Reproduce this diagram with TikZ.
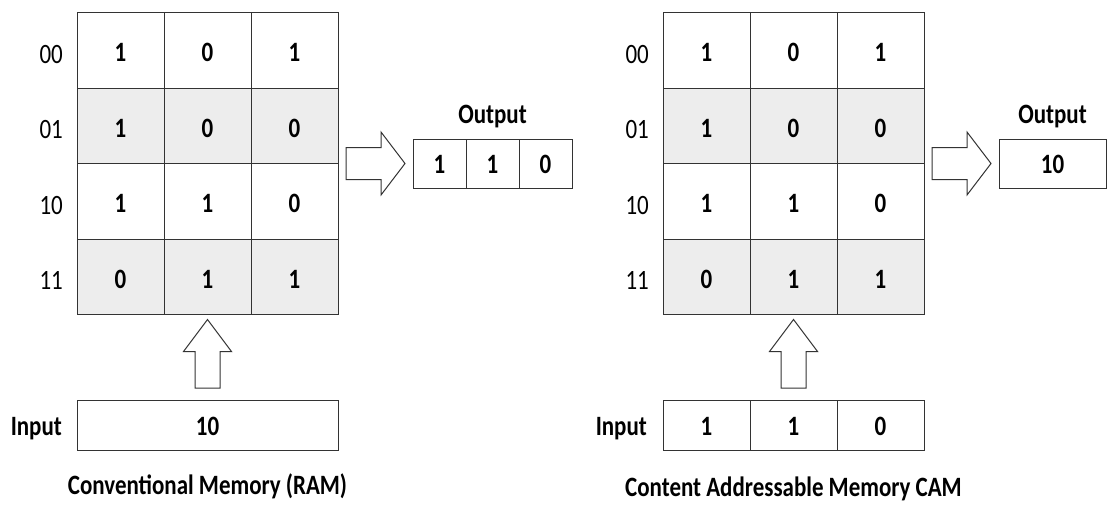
\documentclass[tikz,border=0pt]{standalone}
\usepackage{fontspec}
\setmainfont{Carlito}[FakeStretch=0.82]
\usepackage{xcolor}
\usetikzlibrary{positioning,calc}

\definecolor{rowgray}{HTML}{EDEDED}
\definecolor{edge}{HTML}{333333}
\newcommand{\bigbf}{\fontsize{28}{32}\selectfont\bfseries}
\newcommand{\bigrm}{\fontsize{28}{32}\selectfont}

% block arrows between two points
\newcommand{\hblock}[2]{%
  \draw[blockarrow] let \p1=#1, \p2=#2 in
    (\x1,\y1+16pt) -- (\x2-24pt,\y1+16pt) -- (\x2-24pt,\y1+31.5pt) -- (\x2,\y1)
    -- (\x2-24pt,\y1-31.5pt) -- (\x2-24pt,\y1-16pt) -- (\x1,\y1-16pt) -- cycle;}
\newcommand{\vblock}[2]{%
  \draw[blockarrow] let \p1=#1, \p2=#2 in
    (\x1-12.5pt,\y1) -- (\x1-12.5pt,\y2-32pt) -- (\x1-24pt,\y2-32pt) -- (\x1,\y2)
    -- (\x1+24pt,\y2-32pt) -- (\x1+12.5pt,\y2-32pt) -- (\x1+12.5pt,\y1) -- cycle;}

\tikzset{
  cell/.style={draw=edge, line width=1pt, fill=white, minimum width=87pt, minimum height=75.5pt,
    inner sep=0pt, outer sep=0pt, text height=23pt, text depth=0pt, font=\bigbf},
  smallcell/.style={cell, minimum height=49pt, text height=20pt},
  rowlab/.style={inner sep=0pt, text height=26pt, text depth=0pt, font=\bigrm},
  title/.style={inner sep=0pt, font=\bigbf},
  blockarrow/.style={draw=edge, line width=1pt, fill=white, line join=miter}
}

\begin{document}
\begin{tikzpicture}[x=1pt, y=-1pt]
    \useasboundingbox (0,0) rectangle (1108,504);

    % the two memory grids
    \foreach \g/\gx in {L/77, R/663} {
      \foreach \i/\lab/\f/\va/\vb/\vc in {0/00/white/1/0/1, 1/01/rowgray/1/0/0, 2/10/white/1/1/0, 3/11/rowgray/0/1/1} {
        \node (\g-\i-0) [cell, fill=\f] at ({\gx+43.5}, {50.25+75.5*\i}) {\va};
        \node (\g-\i-1) [cell, fill=\f, right=0pt of \g-\i-0] {\vb};
        \node (\g-\i-2) [cell, fill=\f, right=0pt of \g-\i-1] {\vc};
        \node (\g-lab-\i) [rowlab, left=14pt of \g-\i-0] {\lab};
      }
    }

    % RAM side
    \node (Lout-0) [smallcell, minimum width=53pt] at (439.5,163.5) {1};
    \node (Lout-1) [smallcell, minimum width=53pt, right=0pt of Lout-0] {1};
    \node (Lout-2) [smallcell, minimum width=53pt, right=0pt of Lout-1] {0};
    \node (Lout-t) [title, above=11pt of Lout-1] {Output};
    \node (Lin) [smallcell, minimum width=261pt, minimum height=50pt] at (207.5,425) {10};
    \node (Lin-t) [title, text height=20pt, text depth=0pt, left=15pt of Lin] {Input};
    \node (Lcap) [title, below=24pt of Lin] {Conventional Memory (RAM)};

    % CAM side
    \node (Rout) [smallcell, minimum width=107pt] at (1052.5,163.5) {10};
    \node (Rout-t) [title, above=11pt of Rout] {Output};
    \node (Rin-0) [smallcell, minimum height=50pt] at (706.5,425) {1};
    \node (Rin-1) [smallcell, minimum height=50pt, right=0pt of Rin-0] {1};
    \node (Rin-2) [smallcell, minimum height=50pt, right=0pt of Rin-1] {0};
    \node (Rin-t) [title, text height=20pt, text depth=0pt, left=16pt of Rin-0] {Input};
    \node (Rcap) [title, below=27pt of Rin-1] {Content Addressable Memory CAM};

    % arrows
    \hblock{($(L-1-2.south east)+(8,0)$)}{($(Lout-0.west)+(-8,0)$)}
    \hblock{($(R-1-2.south east)+(8,0)$)}{($(Rout.west)+(-8,0)$)}
    \vblock{($(Lin.north)+(0,-12)$)}{($(L-3-1.south)+(0,5)$)}
    \vblock{($(Rin-1.north)+(0,-12)$)}{($(R-3-1.south)+(0,5)$)}
\end{tikzpicture}
\end{document}
